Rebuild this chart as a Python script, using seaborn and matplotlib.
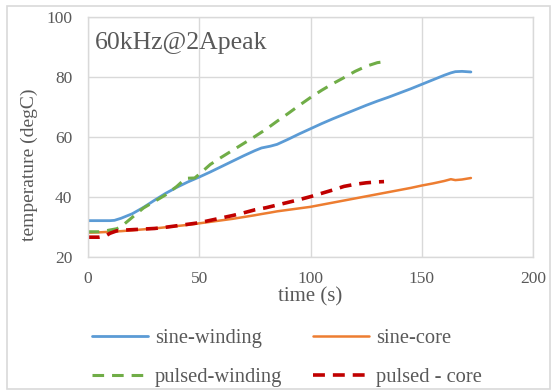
import matplotlib
matplotlib.use("Agg")
import matplotlib.pyplot as plt
import seaborn as sns
import pandas as pd
from matplotlib.patches import Rectangle

# Sine excitation measurements
sine_time = [0, 5, 10, 12, 15, 20, 25, 30, 35, 40, 45, 50, 55, 60, 65, 70, 75, 78,
             82, 85, 90, 95, 100, 105, 110, 115, 120, 125, 130, 135, 140, 145, 150,
             155, 160, 163, 165, 168, 172]
sine_winding = [32.2, 32.2, 32.2, 32.3, 33.0, 34.5, 36.6, 39.0, 41.3, 43.3, 45.1, 46.7,
                48.4, 50.2, 52.0, 53.8, 55.5, 56.4, 57.0, 57.6, 59.3, 61.1, 62.8, 64.5,
                66.1, 67.6, 69.1, 70.6, 72.0, 73.3, 74.7, 76.1, 77.6, 79.1, 80.6, 81.4,
                81.8, 81.9, 81.7]
sine_core = [28.2, 28.3, 28.5, 28.6, 28.7, 29.0, 29.3, 29.6, 30.0, 30.4, 30.8, 31.3,
             31.8, 32.3, 32.8, 33.4, 34.0, 34.4, 34.9, 35.3, 35.8, 36.3, 36.8, 37.5,
             38.2, 38.9, 39.6, 40.3, 41.0, 41.7, 42.4, 43.1, 43.9, 44.6, 45.4, 46.0,
             45.7, 45.9, 46.4]

# Pulsed excitation measurements
pulsed_time = [0, 5, 8, 10, 13, 15, 20, 25, 30, 35, 40, 44, 48, 50, 55, 60, 65, 70, 75,
               80, 85, 90, 95, 100, 105, 110, 115, 120, 125, 130, 133]
pulsed_winding = [28.5, 28.5, 28.8, 29.1, 29.5, 30.2, 33.3, 36.4, 38.6, 40.8, 43.6, 46.3,
                  46.4, 47.6, 50.9, 53.3, 55.6, 57.9, 60.2, 62.6, 65.3, 67.9, 70.6, 73.2,
                  75.6, 77.8, 79.8, 81.9, 83.6, 84.8, 85.1]
pulsed_core = [26.7, 26.7, 27.1, 28.0, 28.8, 29.0, 29.2, 29.4, 29.6, 30.0, 30.5, 30.9,
               31.3, 31.5, 32.3, 33.1, 33.9, 34.8, 35.8, 36.5, 37.4, 38.3, 39.2, 40.2,
               41.3, 42.4, 43.6, 44.3, 44.8, 45.1, 45.2]

series_names = ["sine-winding", "sine-core", "pulsed-winding", "pulsed - core"]
x_ticks = [0, 50, 100, 150, 200]
y_ticks = [20, 40, 60, 80, 100]

frames = [
    pd.DataFrame({"time": sine_time, "temp": sine_winding, "series": series_names[0]}),
    pd.DataFrame({"time": sine_time, "temp": sine_core, "series": series_names[1]}),
    pd.DataFrame({"time": pulsed_time, "temp": pulsed_winding, "series": series_names[2]}),
    pd.DataFrame({"time": pulsed_time, "temp": pulsed_core, "series": series_names[3]}),
]
df = pd.concat(frames, ignore_index=True)

sns.set_theme(style="white")
plt.rcParams["font.family"] = ["Liberation Serif", "DejaVu Serif"]
text_color = "#595959"
grid_color = "#d9d9d9"

palette = {
    "sine-winding": "#5B9BD5",
    "sine-core": "#ED7D31",
    "pulsed-winding": "#70AD47",
    "pulsed - core": "#C00000",
}
dashes = {
    "sine-winding": "",
    "sine-core": "",
    "pulsed-winding": (3.8, 2.6),
    "pulsed - core": (3.3, 2.2),
}
widths = {"sine-winding": 2.0, "sine-core": 1.8, "pulsed-winding": 2.2, "pulsed - core": 2.6}

fig = plt.figure(figsize=(5.55, 3.92), dpi=100)
ax = fig.add_axes([87.7 / 555, 1 - 257.3 / 392, (533.3 - 87.7) / 555, (257.3 - 17) / 392])

handles = {}
for name in series_names:
    sub = df[df["series"] == name]
    sns.lineplot(data=sub, x="time", y="temp", ax=ax, color=palette[name],
                 linewidth=widths[name], label=name, estimator=None, sort=False)
    line = ax.get_lines()[-1]
    if dashes[name]:
        line.set_dashes(dashes[name])
    handles[name] = line

ax.set_xlim(0, 200)
ax.set_ylim(20, 100)
ax.set_xticks(x_ticks)
ax.set_yticks(y_ticks)
ax.grid(True, color=grid_color, linewidth=1.0)
for sp in ax.spines.values():
    sp.set_color(grid_color)
    sp.set_linewidth(1.0)
ax.tick_params(axis="both", length=0, labelsize=12.5, labelcolor=text_color)
ax.tick_params(axis="x", pad=10)
ax.tick_params(axis="y", pad=11)
ax.set_xlabel("time (s)", fontsize=15, color=text_color, labelpad=0)
ax.set_ylabel("temperature (degC)", fontsize=14, color=text_color)
ax.yaxis.set_label_coords(-0.112, 0.384)

ax.text(0.016, 0.89, "60kHz@2Apeak", transform=ax.transAxes, fontsize=18.5,
        color=text_color, ha="left", va="center")

ax.legend_.remove()
order = ["sine-winding", "pulsed-winding", "sine-core", "pulsed - core"]
fig.legend([handles[n] for n in order], order, ncol=2, frameon=False,
           fontsize=14.8, labelcolor=text_color, handlelength=2.72,
           columnspacing=1.5, handletextpad=0.34, labelspacing=0.95,
           borderpad=0, borderaxespad=0,
           loc="upper left", bbox_to_anchor=(92 / 555, 1 - 329 / 392))

fig.patches.append(Rectangle((6.5 / 555, 1 - 389 / 392), 543.5 / 555, 383 / 392,
                             transform=fig.transFigure, fill=False,
                             edgecolor=grid_color, linewidth=1.2))

fig.savefig("out.png", dpi=100)
